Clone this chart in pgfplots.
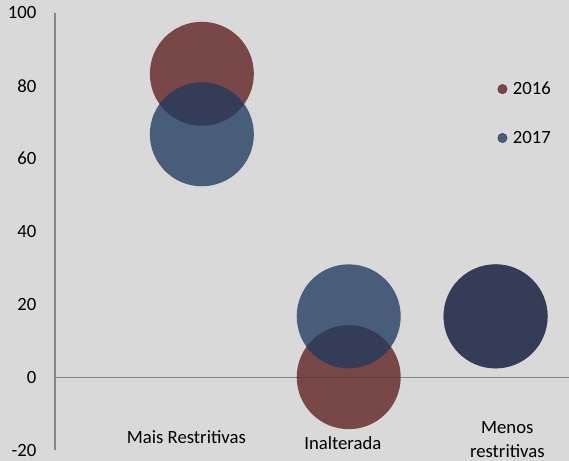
\documentclass[border=0pt]{standalone}
\usepackage{fontspec}
\setmainfont{Carlito}
\usepackage{pgfplots}
\pgfplotsset{compat=1.18}

\definecolor{bg}{RGB}{217,217,217}
\definecolor{c16}{RGB}{94,31,31}
\definecolor{c17}{RGB}{32,59,94}
\definecolor{axisgray}{RGB}{134,134,134}

\begin{document}
\begin{tikzpicture}[font=\fontsize{18.7bp}{24bp}\selectfont]
\fill[bg] (-55bp,-11bp) rectangle (514bp,450bp);
\useasboundingbox (-55bp,-11bp) rectangle (514bp,450bp);
\begin{axis}[
  at={(0,0)}, anchor=south west,
  scale only axis, width=514bp, height=437bp,
  xmin=0, xmax=3.5, ymin=-20, ymax=100,
  clip=false,
  axis x line=none,
  axis y line=left,
  y axis line style={axisgray, line width=1.2bp, -},
  ytick={-20,0,20,40,60,80,100},
  yticklabels={-20,0,20,40,60,80,100},
  major tick length=0pt,
  ytick style={draw=none},
  yticklabel style={anchor=east, inner sep=0pt, xshift=-18.5bp, text=black},
  legend cell align=left,
  legend style={draw=none, fill=none, inner sep=0pt, outer sep=0pt,
    at={(0.861,0.842)}, anchor=north west,
    row sep=35bp, column sep=5.5bp,
    nodes={inner sep=0pt, outer sep=0pt, anchor=west}},
]
% horizontal reference line at zero
\draw[axisgray, line width=1.2bp] (axis cs:0,0) -- (axis cs:3.5,0);

% 2016
\addplot[only marks, color=c16, mark=*, mark size=52bp,
  mark options={draw opacity=0, line width=0pt, fill=c16, fill opacity=0.78},
  legend image code/.code={\fill[c16, fill opacity=0.78] (0bp,0bp) circle (4.7bp);}]
  coordinates {(1,83.3) (2,0) (3,16.7)};
\addlegendentry{2016}

% 2017
\addplot[only marks, color=c17, mark=*, mark size=52bp,
  mark options={draw opacity=0, line width=0pt, fill=c17, fill opacity=0.78},
  legend image code/.code={\fill[c17, fill opacity=0.78] (0bp,0bp) circle (4.7bp);}]
  coordinates {(1,66.7) (2,16.7) (3,16.7)};
\addlegendentry{2017}

% category names
\node at (axis cs:0.895,-16.5) {Mais Restritivas};
\node at (axis cs:1.96,-18.0) {Inalterada};
\node[align=center] at (axis cs:3.08,-17.2) {Menos\\restritivas};
\end{axis}
\end{tikzpicture}
\end{document}
